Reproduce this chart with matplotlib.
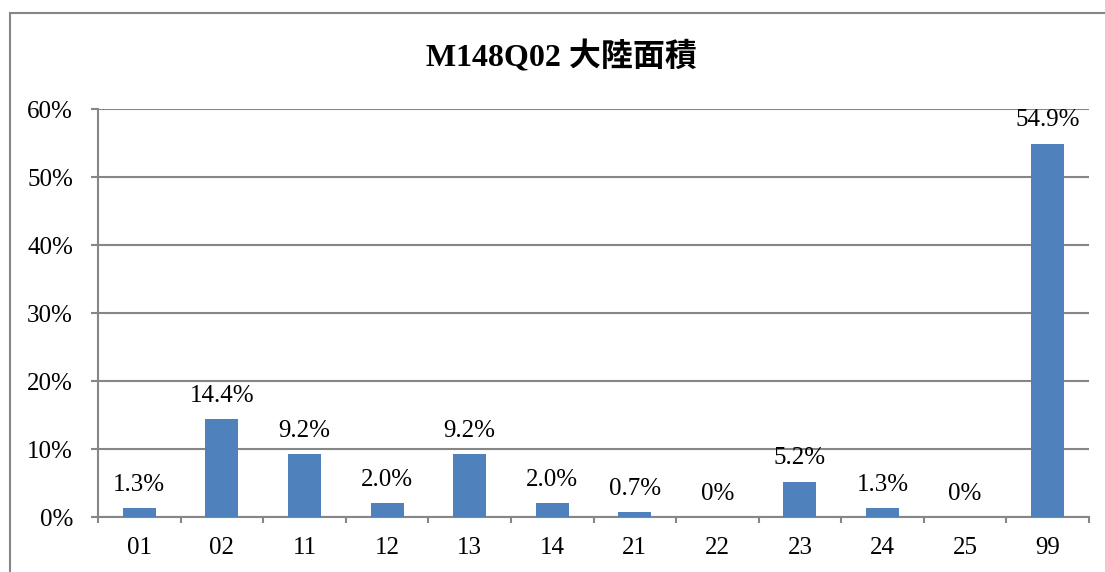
import numpy as np
import matplotlib.pyplot as plt
from matplotlib.patches import Rectangle

# M148Q02 answer codes and their share of responses
codes = ["01", "02", "11", "12", "13", "14", "21", "22", "23", "24", "25", "99"]
share = [1.3, 14.4, 9.2, 2.0, 9.2, 2.0, 0.7, 0.0, 5.2, 1.3, 0.0, 54.9]
labels = ["1.3%", "14.4%", "9.2%", "2.0%", "9.2%", "2.0%", "0.7%", "0%", "5.2%", "1.3%", "0%", "54.9%"]
yticks = [0, 10, 20, 30, 40, 50, 60]

serif = ["Liberation Serif", "Noto Sans CJK TC", "DejaVu Sans"]
plt.rcParams['font.family'] = serif
grey = "#868686"
fs = 18

fig = plt.figure(figsize=(11.05, 5.72), dpi=100)
# outer chart frame, cut off at right and bottom like the original
fig.patches.append(Rectangle((10 / 1105, -0.1), 1.2, (572 - 13) / 572 + 0.1,
                             transform=fig.transFigure, fill=False,
                             edgecolor=grey, linewidth=1.5))

ax = fig.add_axes([98 / 1105, 55 / 572, 991 / 1105, 408 / 572])
x = np.arange(len(codes))
ax.bar(x, share, width=0.4, color="#4F81BD", zorder=3)

for xi, v, lab in zip(x, share, labels):
    ax.annotate(lab, (xi, v), xytext=(0, 12.5), textcoords="offset points",
                ha="center", va="baseline", fontsize=fs)

ax.set_xlim(-0.5, len(codes) - 0.5)
ax.set_ylim(0, 60)
ax.set_yticks(yticks)
ax.set_yticklabels([f"{t}%" for t in yticks], fontsize=fs)
ax.set_xticks(x)
ax.set_xticklabels(codes, fontsize=fs)
ax.set_xticks(np.arange(len(codes) + 1) - 0.5, minor=True)
ax.tick_params(axis="x", which="major", length=0, pad=14.5)
ax.tick_params(axis="x", which="minor", length=4.5, width=1.5, color=grey, direction="out")
ax.tick_params(axis="y", which="major", length=5, width=1.5, color=grey, direction="out", pad=13)

ax.grid(axis="y", color=grey, linewidth=1.5, zorder=0)
ax.set_axisbelow(True)
for s in ["top", "right"]:
    ax.spines[s].set_visible(False)
for s in ["left", "bottom"]:
    ax.spines[s].set_color(grey)
    ax.spines[s].set_linewidth(1.5)

fig.text(0.508, 0.90, "M148Q02 大陸面積", ha="center", va="center",
         fontsize=23, fontweight="bold", family=serif)

fig.savefig("out.png", dpi=100)
